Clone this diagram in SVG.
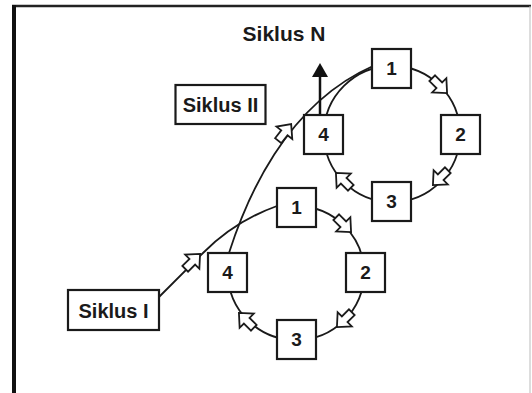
<svg xmlns="http://www.w3.org/2000/svg" xmlns:xlink="http://www.w3.org/1999/xlink" width="532" height="393" viewBox="0 0 532 393">
<style>
.box{fill:#fff;stroke:#1a1a1a;stroke-width:2.2}
.lbl{font-family:"Liberation Sans",Arial,sans-serif;font-weight:bold;font-size:20px;fill:#1a1a1a;text-anchor:middle}
.num{font-family:"Liberation Sans",Arial,sans-serif;font-weight:bold;font-size:19px;fill:#1a1a1a;text-anchor:middle}
.ln{fill:none;stroke:#1a1a1a;stroke-width:1.8}
.ha{fill:#fff;stroke:#1a1a1a;stroke-width:1.8;stroke-linejoin:miter}
</style>
<defs>
<path id="ha" class="ha" d="M-11,-4 L-1,-4 L-1,-10 L10,0 L-1,10 L-1,4 L-11,4 Z"/>
</defs>
<rect width="532" height="393" fill="#fff"/>
<g id="frame">
<line x1="12" y1="6" x2="531" y2="6" stroke="#222" stroke-width="2.5"/>
<line x1="14" y1="5" x2="14" y2="393" stroke="#111" stroke-width="4"/>
<line x1="530" y1="6" x2="530" y2="393" stroke="#bbb" stroke-width="1"/>
</g>
<g id="connectors">
<path class="ln" d="M296,206 A68,67 0 1 1 228,273"/>
<circle class="ln" cx="392" cy="134" r="68"/>
<path class="ln" d="M159,297 L203,253 Q235,221 277,206"/>
<path class="ln" d="M229,253 C246,200 285,105 373,66"/>
<line x1="320" y1="114" x2="320" y2="76" stroke="#111" stroke-width="2.5"/>
<polygon points="320,63 312,77 328,77" fill="#111"/>
<use xlink:href="#ha" href="#ha" transform="translate(193,261) rotate(-45)"/>
<use xlink:href="#ha" href="#ha" transform="translate(285,132) rotate(-52)"/>
<use xlink:href="#ha" href="#ha" transform="translate(344,225) rotate(45)"/>
<use xlink:href="#ha" href="#ha" transform="translate(344,320) rotate(135)"/>
<use xlink:href="#ha" href="#ha" transform="translate(246,320) rotate(225)"/>
<use xlink:href="#ha" href="#ha" transform="translate(440,86) rotate(45)"/>
<use xlink:href="#ha" href="#ha" transform="translate(440,178) rotate(135)"/>
<use xlink:href="#ha" href="#ha" transform="translate(343,180) rotate(225)"/>
</g>
<g id="siklusN"><text class="lbl" x="284" y="41" style="font-size:21px">Siklus N</text></g>
<g id="siklusII"><rect class="box" x="175.5" y="85" width="90" height="39"/><text class="lbl" x="220.5" y="112">Siklus II</text></g>
<g id="siklusI"><rect class="box" x="68" y="290" width="91" height="40"/><text class="lbl" x="113.5" y="318">Siklus I</text></g>
<g id="L1"><rect class="box" x="277" y="188" width="39" height="39"/><text class="num" x="296.5" y="214">1</text></g>
<g id="L2"><rect class="box" x="346" y="253" width="39" height="39"/><text class="num" x="365.5" y="279">2</text></g>
<g id="L3"><rect class="box" x="277" y="320" width="39" height="39"/><text class="num" x="296.5" y="346">3</text></g>
<g id="L4"><rect class="box" x="208" y="253" width="39" height="39"/><text class="num" x="227.5" y="279">4</text></g>
<g id="U1"><rect class="box" x="372" y="49" width="39" height="39"/><text class="num" x="391.5" y="75">1</text></g>
<g id="U2"><rect class="box" x="441" y="115" width="39" height="39"/><text class="num" x="460.5" y="141">2</text></g>
<g id="U3"><rect class="box" x="372" y="182" width="39" height="39"/><text class="num" x="391.5" y="208">3</text></g>
<g id="U4"><rect class="box" x="304" y="115" width="39" height="39"/><text class="num" x="323.5" y="141">4</text></g>
</svg>
